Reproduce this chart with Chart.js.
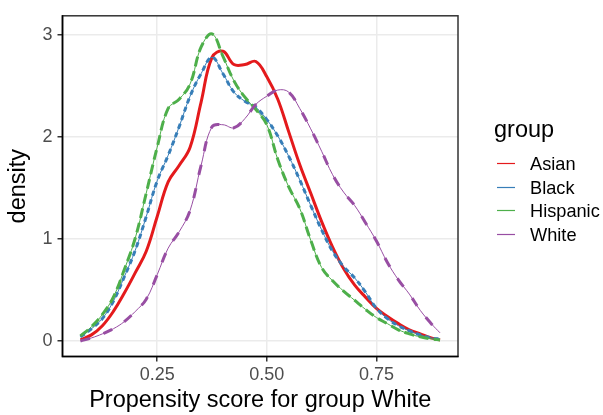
<!DOCTYPE html>
<html>
<head>
<meta charset="utf-8">
<script src="https://cdn.jsdelivr.net/npm/chart.js@4.4.1/dist/chart.umd.min.js"></script>
<style>
  html, body { margin: 0; padding: 0; background: #ffffff; }
  #wrap { width: 603px; height: 415px; position: relative; }
</style>
</head>
<body>
<div id="wrap"><canvas id="c" width="603" height="415"></canvas></div>
<script>
// ---- data ----
const xs = [0.075, 0.1, 0.125, 0.15, 0.175, 0.2, 0.225, 0.25, 0.275, 0.3, 0.325, 0.35, 0.375, 0.4,
            0.425, 0.45, 0.475, 0.5, 0.525, 0.55, 0.575, 0.6, 0.625, 0.65, 0.675, 0.7, 0.725, 0.75,
            0.775, 0.8, 0.825, 0.85, 0.875, 0.895];
const asian = [0.01, 0.06, 0.15, 0.29, 0.47, 0.67, 0.88, 1.22, 1.56, 1.72, 1.90, 2.34, 2.78, 2.84,
               2.71, 2.71, 2.74, 2.59, 2.37, 2.05, 1.73, 1.45, 1.17, 0.92, 0.71, 0.55, 0.43, 0.32,
               0.24, 0.17, 0.11, 0.07, 0.03, 0.01];
const black = [0.04, 0.12, 0.22, 0.39, 0.63, 0.89, 1.22, 1.57, 1.82, 2.10, 2.40, 2.62, 2.78, 2.62,
               2.44, 2.35, 2.29, 2.17, 2.01, 1.81, 1.58, 1.33, 1.09, 0.88, 0.73, 0.62, 0.48, 0.32,
               0.22, 0.15, 0.10, 0.06, 0.03, 0.02];
const hispanic = [0.05, 0.14, 0.26, 0.43, 0.70, 1.01, 1.45, 1.90, 2.28, 2.37, 2.52, 2.88, 3.01, 2.79,
                  2.55, 2.39, 2.27, 2.12, 1.78, 1.51, 1.30, 0.99, 0.72, 0.59, 0.49, 0.40, 0.31, 0.23,
                  0.17, 0.11, 0.07, 0.04, 0.02, 0.01];
const white = [0.00, 0.03, 0.07, 0.12, 0.19, 0.29, 0.41, 0.65, 0.91, 1.07, 1.28, 1.72, 2.10, 2.12,
               2.09, 2.18, 2.32, 2.40, 2.46, 2.44, 2.28, 2.08, 1.86, 1.63, 1.46, 1.33, 1.16, 0.98,
               0.77, 0.60, 0.46, 0.30, 0.17, 0.08];
const groups = ["Asian", "Black", "Hispanic", "White"];
const colors = ["#E41A1C", "#377EB8", "#4DAF4A", "#984EA3"];
const xTicks = [0.25, 0.50, 0.75];
const xTickLabels = ["0.25", "0.50", "0.75"];
const yTicks = [0, 1, 2, 3];
const xTitle = "Propensity score for group White";
const yTitle = "density";
const legendTitle = "group";

// ---- build datasets ----
const series = [asian, black, hispanic, white];
const dashes = [[], [5, 4], [10, 5], [10, 14]];
const pts = s => xs.map((x, i) => ({ x: x, y: s[i] }));
const datasets = [];
series.forEach((s, g) => {
  if (g === 0) {
    datasets.push({ label: groups[g], data: pts(s), borderColor: colors[g], borderWidth: 3,
      pointRadius: 0, fill: false, tension: 0.4, order: 10 - 2 * g });
  } else {
    datasets.push({ label: groups[g], data: pts(s), borderColor: colors[g], borderWidth: 1,
      pointRadius: 0, fill: false, tension: 0.4, order: 10 - 2 * g });
    datasets.push({ label: groups[g] + "_d", data: pts(s), borderColor: colors[g], borderWidth: 3,
      borderDash: dashes[g], borderCapStyle: 'butt', pointRadius: 0, fill: false,
      tension: 0.4, order: 9 - 2 * g });
  }
});

const FONT = "'Liberation Sans', Arial, Helvetica, sans-serif";

const decor = {
  id: 'decor',
  afterDatasetsDraw(chart) {
    const ctx = chart.ctx, a = chart.chartArea;
    ctx.save();
    ctx.strokeStyle = '#333333';
    ctx.lineWidth = 1.5;
    ctx.strokeRect(a.left, a.top, a.right - a.left, a.bottom - a.top);
    ctx.strokeStyle = '#000000';
    ctx.lineWidth = 1.6;
    ctx.beginPath();
    ctx.moveTo(a.left, a.top - 0.5);
    ctx.lineTo(a.left, a.bottom);
    ctx.lineTo(a.right + 0.5, a.bottom);
    ctx.stroke();
    ctx.restore();
  },
  afterDraw(chart) {
    const ctx = chart.ctx, a = chart.chartArea;
    ctx.save();
    ctx.fillStyle = '#000000';
    ctx.font = '23.5px ' + FONT;
    ctx.textAlign = 'center';
    ctx.textBaseline = 'middle';
    ctx.fillText(xTitle, (a.left + a.right) / 2, 401);
    ctx.save();
    ctx.translate(19, (a.top + a.bottom) / 2);
    ctx.rotate(-Math.PI / 2);
    ctx.fillText(yTitle, 0, 0);
    ctx.restore();
    // legend
    ctx.textAlign = 'left';
    ctx.fillText(legendTitle, 494, 131);
    ctx.font = '18.2px ' + FONT;
    groups.forEach((g, i) => {
      const y = Math.round(163 + i * 23.5) + 0.5;
      ctx.strokeStyle = colors[i];
      ctx.lineWidth = 1.2;
      ctx.beginPath();
      ctx.moveTo(497, y);
      ctx.lineTo(515, y);
      ctx.stroke();
      ctx.fillStyle = '#000000';
      ctx.fillText(g, 530, y + 1);
    });
    ctx.restore();
  }
};

new Chart(document.getElementById('c'), {
  type: 'line',
  data: { datasets: datasets },
  options: {
    responsive: false,
    animation: false,
    devicePixelRatio: 1,
    layout: { padding: { left: 0, top: 6, right: 145, bottom: 0 } },
    plugins: { legend: { display: false }, tooltip: { enabled: false } },
    scales: {
      x: {
        type: 'linear', min: 0.034, max: 0.936,
        afterBuildTicks: s => { s.ticks = xTicks.map(v => ({ value: v })); },
        afterFit: s => { s.height = 58.5; },
        grid: { color: '#EBEBEB', lineWidth: 1.5, tickLength: 5, tickColor: '#333333', tickWidth: 1.5 },
        border: { display: false },
        ticks: { font: { family: FONT, size: 18 }, color: '#4D4D4D', padding: 3,
          maxRotation: 0, autoSkip: false,
          callback: (v) => { const i = xTicks.indexOf(v); return i >= 0 ? xTickLabels[i] : ''; } }
      },
      y: {
        type: 'linear', min: -0.152, max: 3.188,
        afterBuildTicks: s => { s.ticks = yTicks.map(v => ({ value: v })); },
        afterFit: s => { s.width = 62.5; },
        grid: { color: '#EBEBEB', lineWidth: 1.5, tickLength: 5, tickColor: '#333333', tickWidth: 1.5 },
        border: { display: false },
        ticks: { font: { family: FONT, size: 18 }, color: '#4D4D4D', padding: 5,
          callback: (v) => String(v) }
      }
    }
  },
  plugins: [decor]
});
</script>
</body>
</html>
